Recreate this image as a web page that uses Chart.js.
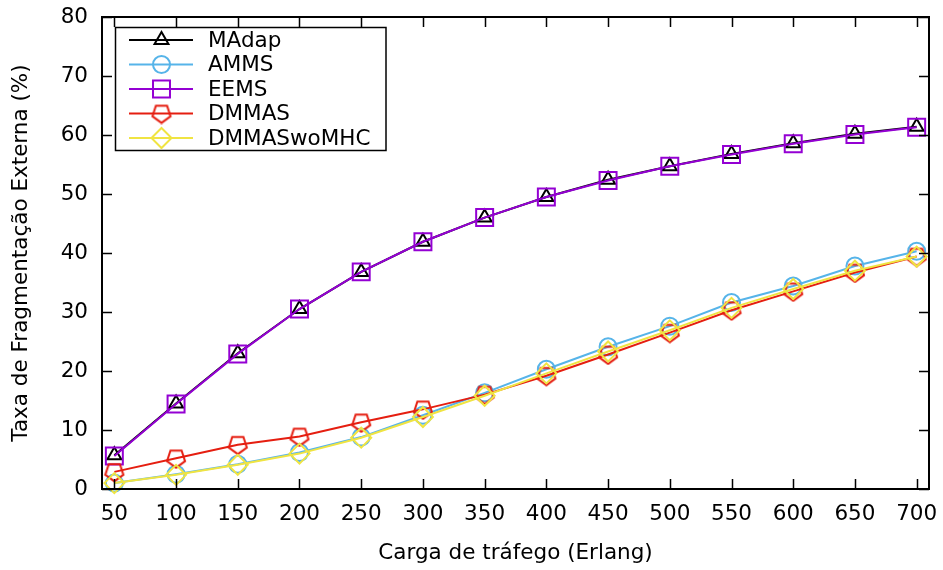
<!DOCTYPE html>
<html lang="pt">
<head>
<meta charset="UTF-8">
<script src="https://cdn.jsdelivr.net/npm/chart.js"></script>
<title>Fragmentação Externa</title>
<style>
  body { margin: 0; background: #fff; }
  canvas { display: block; }
</style>
</head>
<body>
<canvas id="grafico" width="943" height="570"></canvas>
<script>
    // carga em Erlang
    const cargas = [50, 100, 150, 200, 250, 300, 350, 400, 450, 500, 550, 600, 650, 700]
    const yTicks = [0, 10, 20, 30, 40, 50, 60, 70, 80]

    const madap = [5.7, 14.5, 23.0, 30.5, 36.8, 41.9, 46.0, 49.5, 52.4, 54.7, 56.8, 58.6, 60.2, 61.4]
    const amms = [1.0, 2.5, 4.2, 6.2, 8.8, 12.5, 16.3, 20.3, 24.1, 27.6, 31.6, 34.4, 37.8, 40.3]
    const eems = [5.6, 14.4, 22.9, 30.5, 36.8, 41.9, 46.0, 49.5, 52.3, 54.7, 56.7, 58.5, 60.1, 61.3]
    const dmmas = [2.9, 5.2, 7.5, 8.9, 11.3, 13.5, 16.0, 19.2, 22.8, 26.5, 30.3, 33.5, 36.7, 39.4]
    const dmmasWo = [1.0, 2.4, 4.1, 6.0, 8.7, 12.2, 15.8, 19.6, 23.3, 26.9, 30.7, 33.9, 37.0, 39.4]

    const fonte = 'DejaVu Sans'
    const tam = 21.5

    // pentagono com a ponta para baixo (nao existe no Chart.js)
    function pentagono(cor) {
        const c = document.createElement('canvas')
        c.width = 22
        c.height = 22
        const g = c.getContext('2d')
        const R = 9.5
        g.strokeStyle = cor
        g.lineWidth = 2
        g.beginPath()
        for (let k = 0; k < 5; k++) {
            const a = Math.PI / 2 + k * 2 * Math.PI / 5
            const px = 11 + R * Math.cos(a)
            const py = 10.9 + R * Math.sin(a)
            if (k == 0) g.moveTo(px, py); else g.lineTo(px, py)
        }
        g.closePath()
        g.stroke()
        return c
    }

    const series = [
        { label: 'MAdap', data: madap, cor: '#000000', estilo: 'triangle', raio: 8 },
        { label: 'AMMS', data: amms, cor: '#56b4e9', estilo: 'circle', raio: 8.5 },
        { label: 'EEMS', data: eems, cor: '#9400d3', estilo: 'rect', raio: 12 },
        { label: 'DMMAS', data: dmmas, cor: '#e51e10', estilo: pentagono('#e51e10'), raio: 10 },
        { label: 'DMMASwoMHC', data: dmmasWo, cor: '#f0e442', estilo: 'rectRot', raio: 10 }
    ]

    const molduraPlugin = {
        id: 'moldura',
        afterDraw(chart) {
            const ctx = chart.ctx
            const a = chart.chartArea
            const sx = chart.scales.x
            const sy = chart.scales.y
            ctx.save()
            ctx.strokeStyle = '#000'
            ctx.lineWidth = 1.5
            ctx.beginPath()
            // ticks para dentro, nos quatro lados
            cargas.forEach(v => {
                const px = Math.round(sx.getPixelForValue(v)) + 0.5
                ctx.moveTo(px, a.bottom); ctx.lineTo(px, a.bottom - 10)
                ctx.moveTo(px, a.top); ctx.lineTo(px, a.top + 10)
            })
            yTicks.forEach(v => {
                const py = Math.round(sy.getPixelForValue(v)) + 0.5
                ctx.moveTo(a.left, py); ctx.lineTo(a.left + 10, py)
                ctx.moveTo(a.right, py); ctx.lineTo(a.right - 10, py)
            })
            ctx.stroke()
            ctx.lineWidth = 2
            ctx.strokeRect(a.left, a.top, a.right - a.left, a.bottom - a.top)

            // legenda estilo gnuplot
            const lx = 115.5, ly = 27.5, lw = 270.5, lh = 123
            ctx.fillStyle = '#fff'
            ctx.fillRect(lx, ly, lw, lh)
            ctx.lineWidth = 1.5
            ctx.strokeRect(lx, ly, lw, lh)
            ctx.font = tam + 'px "' + fonte + '"'
            ctx.textBaseline = 'middle'
            ctx.textAlign = 'left'
            series.forEach((s, i) => {
                const yy = 40 + i * 24.5
                ctx.strokeStyle = s.cor
                ctx.lineWidth = 2
                ctx.beginPath()
                ctx.moveTo(129, yy); ctx.lineTo(193, yy)
                ctx.stroke()
                ctx.fillStyle = 'rgba(0,0,0,0)'
                Chart.helpers.drawPoint(ctx, { pointStyle: s.estilo, radius: s.raio, borderWidth: 2 }, 161.5, yy)
                ctx.fillStyle = '#000'
                ctx.fillText(s.label, 208, yy + 1)
            })
            ctx.restore()
        }
    }

    const ctx = document.getElementById('grafico')
    new Chart(ctx, {
        type: 'line',
        data: {
            datasets: series.map((s, i) => ({
                label: s.label,
                data: cargas.map((c, j) => ({ x: c, y: s.data[j] })),
                borderColor: s.cor,
                backgroundColor: 'rgba(0,0,0,0)',
                pointBorderColor: s.cor,
                pointBackgroundColor: 'rgba(0,0,0,0)',
                pointStyle: s.estilo,
                pointRadius: s.raio,
                pointBorderWidth: 2,
                borderWidth: 2,
                tension: 0,
                clip: false,
                order: series.length - i
            }))
        },
        options: {
            responsive: false,
            animation: false,
            layout: { padding: { top: 17, right: 14, left: 0, bottom: 0 } },
            plugins: {
                legend: { display: false },
                tooltip: { enabled: false }
            },
            scales: {
                x: {
                    type: 'linear',
                    min: 40,
                    max: 710,
                    afterBuildTicks: (s) => { s.ticks = cargas.map(v => ({ value: v })) },
                    afterFit: (s) => { s.height = 81; s.paddingLeft = 0; s.paddingRight = 0 },
                    grid: { display: false, drawTicks: false },
                    border: { display: false },
                    ticks: {
                        color: '#000',
                        font: { family: fonte, size: tam },
                        padding: 13,
                        maxRotation: 0,
                        autoSkip: false
                    },
                    title: {
                        display: true,
                        text: 'Carga de tráfego (Erlang)',
                        color: '#000',
                        font: { family: fonte, size: tam },
                        padding: { top: 0, bottom: 4 }
                    }
                },
                y: {
                    min: 0,
                    max: 80,
                    afterBuildTicks: (s) => { s.ticks = yTicks.map(v => ({ value: v })) },
                    afterFit: (s) => { s.width = 102; s.paddingTop = 0; s.paddingBottom = 0 },
                    grid: { display: false, drawTicks: false },
                    border: { display: false },
                    ticks: {
                        color: '#000',
                        font: { family: fonte, size: tam },
                        padding: 14
                    },
                    title: {
                        display: true,
                        text: 'Taxa de Fragmentação Externa (%)',
                        color: '#000',
                        font: { family: fonte, size: tam },
                        padding: { top: 9, bottom: 0 }
                    }
                }
            }
        },
        plugins: [molduraPlugin]
    })
</script>
</body>
</html>
